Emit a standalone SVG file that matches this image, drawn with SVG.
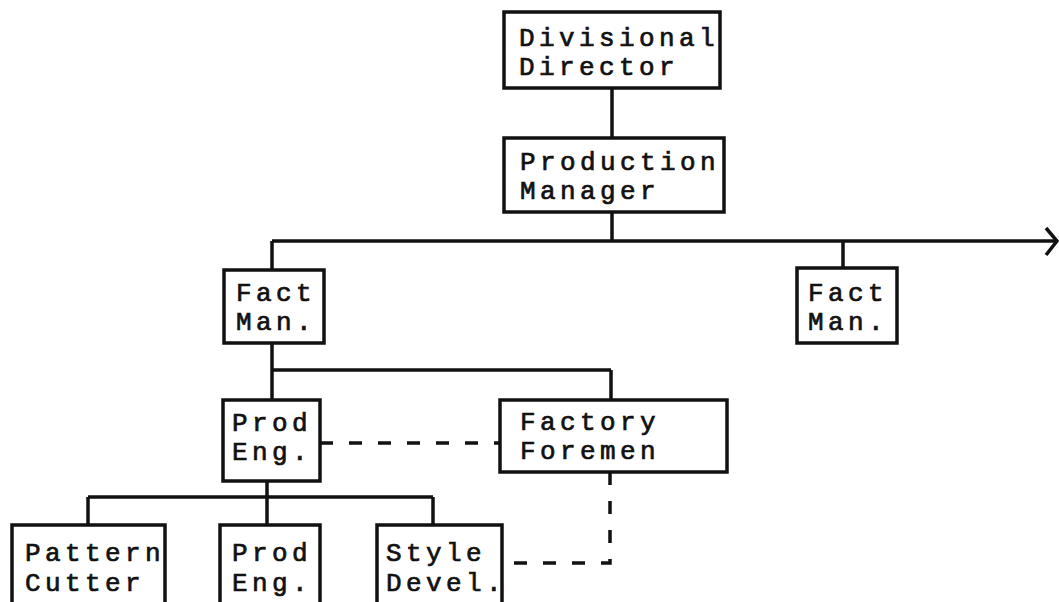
<svg xmlns="http://www.w3.org/2000/svg" width="1059" height="602" viewBox="0 0 1059 602">
<style>
.box{fill:#fff;stroke:#111;stroke-width:3.5}
.t{font-family:"Liberation Mono","DejaVu Sans Mono",monospace;font-size:26px;letter-spacing:4.4px;fill:#111;stroke:#111;stroke-width:0.7}
.c{fill:none;stroke:#111;stroke-width:3.5}
.d{fill:none;stroke:#111;stroke-width:3.5;stroke-dasharray:13 16}
</style>
<rect width="1059" height="602" fill="#fff"/>
<g id="connectors">
<line class="c" x1="612" y1="88" x2="612" y2="138"/>
<line class="c" x1="612" y1="212" x2="612" y2="241"/>
<line class="c" x1="272" y1="241" x2="1056" y2="241"/>
<polyline class="c" points="1046,228 1057,241 1046,255"/>
<line class="c" x1="272" y1="241" x2="272" y2="270"/>
<line class="c" x1="843" y1="241" x2="843" y2="268"/>
<line class="c" x1="272" y1="343" x2="272" y2="400"/>
<line class="c" x1="272" y1="370" x2="611" y2="370"/>
<line class="c" x1="611" y1="370" x2="611" y2="400"/>
<line class="d" x1="320" y1="443" x2="500" y2="443"/>
<line class="c" x1="267" y1="481" x2="267" y2="525"/>
<line class="c" x1="88" y1="497" x2="433" y2="497"/>
<line class="c" x1="88" y1="497" x2="88" y2="525"/>
<line class="c" x1="433" y1="497" x2="433" y2="525"/>
<polyline class="d" points="610,472 610,563 502,563"/>
</g>
<g id="divisional-director">
<rect class="box" x="504" y="12" width="216" height="76"/>
<text class="t" x="519" y="46">Divisional</text>
<text class="t" x="519" y="75">Director</text>
</g>
<g id="production-manager">
<rect class="box" x="504" y="138" width="220" height="74"/>
<text class="t" x="520" y="170">Production</text>
<text class="t" x="520" y="199">Manager</text>
</g>
<g id="fact-man-1">
<rect class="box" x="224" y="270" width="100" height="73"/>
<text class="t" x="236" y="301">Fact</text>
<text class="t" x="236" y="330">Man.</text>
</g>
<g id="fact-man-2">
<rect class="box" x="797" y="268" width="100" height="75"/>
<text class="t" x="808" y="301">Fact</text>
<text class="t" x="808" y="330">Man.</text>
</g>
<g id="prod-eng-1">
<rect class="box" x="223" y="400" width="97" height="81"/>
<text class="t" x="232" y="431">Prod</text>
<text class="t" x="232" y="460">Eng.</text>
</g>
<g id="factory-foremen">
<rect class="box" x="500" y="400" width="227" height="72"/>
<text class="t" x="520" y="430">Factory</text>
<text class="t" x="520" y="459">Foremen</text>
</g>
<g id="pattern-cutter">
<rect class="box" x="12" y="525" width="153" height="100"/>
<text class="t" x="25" y="561">Pattern</text>
<text class="t" x="25" y="591">Cutter</text>
</g>
<g id="prod-eng-2">
<rect class="box" x="220" y="525" width="100" height="100"/>
<text class="t" x="232" y="561">Prod</text>
<text class="t" x="232" y="591">Eng.</text>
</g>
<g id="style-devel">
<rect class="box" x="377" y="525" width="125" height="100"/>
<text class="t" x="386" y="561">Style</text>
<text class="t" x="386" y="591">Devel.</text>
</g>
</svg>
